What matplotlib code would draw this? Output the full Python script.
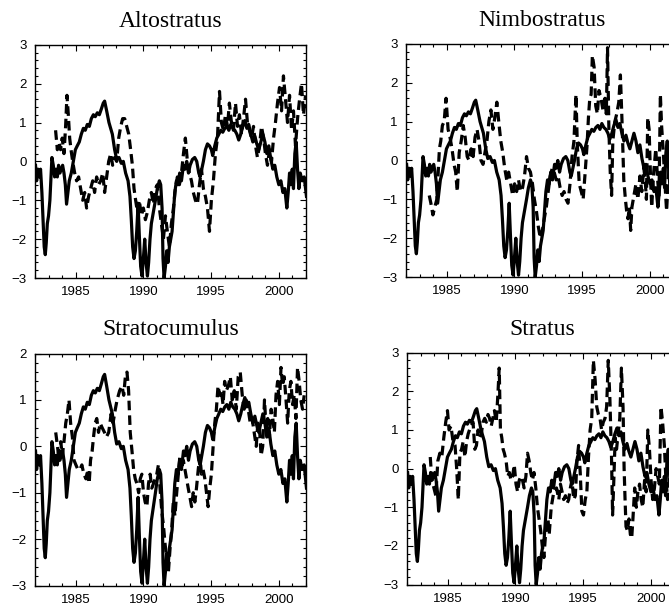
import matplotlib
matplotlib.use('Agg')
import matplotlib.pyplot as plt
from matplotlib.ticker import MultipleLocator

# Serie continua (comum aos quatro paineis)
anos_ref = [1982.04, 1982.12, 1982.22, 1982.32, 1982.41, 1982.51, 1982.61, 1982.68, 1982.76, 1982.83,
            1982.91, 1983.00, 1983.10, 1983.18, 1983.25, 1983.35, 1983.45, 1983.55, 1983.65, 1983.74,
            1983.84, 1983.94, 1984.04, 1984.14, 1984.24, 1984.33, 1984.43, 1984.53, 1984.68, 1984.83,
            1984.98, 1985.12, 1985.27, 1985.42, 1985.57, 1985.71, 1985.86, 1986.01, 1986.16, 1986.31,
            1986.45, 1986.60, 1986.75, 1986.90, 1987.04, 1987.14, 1987.29, 1987.46, 1987.71, 1987.88,
            1988.03, 1988.20, 1988.37, 1988.52, 1988.69, 1988.87, 1989.01, 1989.11, 1989.21, 1989.31,
            1989.41, 1989.51, 1989.61, 1989.70, 1989.80, 1989.90, 1990.00, 1990.10, 1990.20, 1990.30,
            1990.39, 1990.49, 1990.59, 1990.74, 1990.89, 1991.03, 1991.18, 1991.28, 1991.38, 1991.45,
            1991.53, 1991.63, 1991.72, 1991.82, 1991.92, 1992.02, 1992.12, 1992.22, 1992.32, 1992.44,
            1992.56, 1992.68, 1992.81, 1992.96, 1993.08, 1993.20, 1993.33, 1993.45, 1993.62, 1993.79,
            1993.94, 1994.09, 1994.19, 1994.31, 1994.43, 1994.58, 1994.73, 1994.88, 1995.02, 1995.12,
            1995.27, 1995.42, 1995.57, 1995.71, 1995.86, 1996.01, 1996.16, 1996.31, 1996.45, 1996.60,
            1996.75, 1996.90, 1997.04, 1997.19, 1997.34, 1997.49, 1997.64, 1997.78, 1997.93, 1998.08,
            1998.23, 1998.37, 1998.52, 1998.67, 1998.82, 1998.97, 1999.11, 1999.26, 1999.41, 1999.56,
            1999.70, 1999.85, 2000.00, 2000.15, 2000.30, 2000.44, 2000.59, 2000.69, 2000.79, 2000.89,
            2000.99, 2001.08, 2001.18, 2001.28, 2001.38, 2001.48, 2001.58, 2001.72, 2001.87, 2001.97,
            2002.04]
valores_ref = [-0.1, -0.5, -0.2, -0.4, -0.2, -0.8, -1.6, -2.2, -2.4, -2.1,
               -1.6, -1.4, -1.0, -0.4, 0.1, -0.1, -0.4, -0.2, -0.4, -0.1,
               -0.3, -0.2, -0.1, -0.3, -0.6, -1.1, -0.8, -0.5, -0.3, 0.0,
               0.3, 0.4, 0.5, 0.7, 0.85, 0.8, 0.95, 0.9, 1.1, 1.2,
               1.15, 1.25, 1.2, 1.35, 1.5, 1.55, 1.3, 1.0, 0.7, 0.3,
               0.05, 0.1, -0.05, 0.0, -0.3, -0.5, -0.9, -1.5, -2.2, -2.5,
               -2.3, -1.8, -1.1, -1.9, -2.7, -2.95, -2.5, -2.0, -2.6, -2.95,
               -2.6, -2.0, -1.6, -1.3, -1.0, -0.7, -0.5, -0.6, -1.2, -2.5,
               -3.0, -2.7, -2.3, -2.6, -2.2, -2.0, -1.8, -1.3, -0.8, -0.5,
               -0.6, -0.3, -0.5, -0.1, -0.2, 0.0, -0.3, -0.1, 0.05, 0.1,
               0.0, -0.3, -0.4, -0.2, 0.0, 0.3, 0.45, 0.4, 0.3, 0.15,
               0.4, 0.6, 0.7, 0.8, 0.75, 0.85, 0.9, 0.8, 0.95, 0.85,
               0.8, 0.7, 0.55, 0.7, 0.9, 1.05, 0.85, 0.95, 0.7, 0.5,
               0.65, 0.45, 0.3, 0.5, 0.7, 0.5, 0.2, 0.4, 0.05, -0.2,
               -0.1, -0.4, -0.6, -0.5, -0.8, -0.7, -1.2, -0.8, -0.3, -0.6,
               -0.2, -0.7, 0.2, 0.5, -0.2, -0.7, -0.3, -0.5, -0.4, -0.7,
               -0.9]

# Altostratus
anos_as = [1983.52, 1983.65, 1983.77, 1983.89, 1984.01, 1984.14, 1984.26, 1984.36, 1984.46, 1984.56,
           1984.66, 1984.78, 1984.93, 1985.07, 1985.22, 1985.37, 1985.52, 1985.67, 1985.81, 1985.96,
           1986.11, 1986.26, 1986.40, 1986.55, 1986.70, 1986.85, 1987.00, 1987.14, 1987.29, 1987.44,
           1987.59, 1987.73, 1987.88, 1988.03, 1988.18, 1988.33, 1988.47, 1988.62, 1988.77, 1988.92,
           1989.06, 1989.19, 1989.31, 1989.43, 1989.56, 1989.70, 1989.85, 1990.00, 1990.15, 1990.30,
           1990.44, 1990.59, 1990.74, 1990.89, 1991.03, 1991.18, 1991.33, 1991.48, 1991.63, 1991.77,
           1991.92, 1992.07, 1992.22, 1992.36, 1992.51, 1992.66, 1992.81, 1992.96, 1993.10, 1993.25,
           1993.40, 1993.55, 1993.69, 1993.84, 1993.99, 1994.14, 1994.29, 1994.43, 1994.58, 1994.73,
           1994.88, 1995.02, 1995.17, 1995.32, 1995.47, 1995.62, 1995.76, 1995.91, 1996.06, 1996.21,
           1996.35, 1996.50, 1996.65, 1996.80, 1996.95, 1997.09, 1997.24, 1997.39, 1997.54, 1997.68,
           1997.83, 1997.98, 1998.13, 1998.28, 1998.42, 1998.57, 1998.72, 1998.87, 1999.01, 1999.16,
           1999.31, 1999.46, 1999.61, 1999.75, 1999.90, 2000.05, 2000.20, 2000.34, 2000.49, 2000.64,
           2000.79, 2000.94, 2001.08, 2001.23, 2001.38, 2001.53, 2001.67, 2001.82, 2001.97]
valores_as = [0.8, 0.3, 0.5, 0.3, 0.6, 0.2, 0.9, 1.7, 1.2, 0.6,
              0.3, 0.0, -0.3, -0.5, -0.4, -0.7, -1.0, -0.8, -1.2, -0.9,
              -0.7, -0.5, -0.8, -0.4, -0.6, -0.5, -0.3, -0.8, -0.4, 0.0,
              0.2, -0.1, 0.1, 0.0, 0.6, 0.9, 1.1, 1.1, 0.9, 0.7,
              0.3, -0.1, -0.7, -1.0, -1.3, -1.0, -1.4, -1.2, -1.5, -1.3,
              -1.0, -0.8, -1.1, -0.7, -0.6, -1.2, -1.6, -2.0, -1.4, -1.8,
              -2.2, -1.6, -1.2, -0.7, -0.4, -0.6, -0.3, 0.2, 0.6, 0.0,
              -0.3, -0.5, -0.8, -1.0, -1.1, -0.6, -0.2, -0.7, -0.9, -1.2,
              -1.8, -1.0, -0.5, 0.2, 0.6, 1.8, 1.0, 0.8, 1.2, 0.9,
              1.5, 1.0, 0.8, 1.5, 0.9, 1.2, 0.7, 1.1, 1.6, 1.0,
              0.8, 0.6, 0.9, 0.4, 0.1, 0.4, 0.9, 0.6, 0.2, -0.1,
              0.3, 0.0, 0.6, 1.0, 1.5, 1.9, 1.3, 2.2, 1.6, 1.0,
              1.7, 0.8, 1.3, 0.4, 1.1, 1.6, 2.0, 1.2, 1.7]

# Nimbostratus
anos_ns = [1983.71, 1983.83, 1983.98, 1984.12, 1984.27, 1984.37, 1984.46, 1984.56, 1984.68, 1984.81,
           1984.95, 1985.10, 1985.24, 1985.39, 1985.54, 1985.66, 1985.78, 1985.92, 1986.07, 1986.22,
           1986.36, 1986.51, 1986.65, 1986.80, 1986.95, 1987.09, 1987.24, 1987.38, 1987.53, 1987.68,
           1987.82, 1987.97, 1988.11, 1988.26, 1988.41, 1988.55, 1988.70, 1988.84, 1988.99, 1989.14,
           1989.28, 1989.43, 1989.57, 1989.72, 1989.87, 1990.01, 1990.16, 1990.30, 1990.45, 1990.60,
           1990.74, 1990.89, 1991.03, 1991.18, 1991.33, 1991.47, 1991.62, 1991.76, 1991.91, 1992.06,
           1992.20, 1992.35, 1992.49, 1992.64, 1992.79, 1992.93, 1993.08, 1993.22, 1993.37, 1993.52,
           1993.66, 1993.81, 1993.95, 1994.10, 1994.25, 1994.39, 1994.54, 1994.64, 1994.78, 1994.93,
           1995.07, 1995.22, 1995.36, 1995.46, 1995.56, 1995.66, 1995.75, 1995.88, 1996.00, 1996.12,
           1996.24, 1996.39, 1996.53, 1996.68, 1996.78, 1996.87, 1996.97, 1997.07, 1997.17, 1997.26,
           1997.41, 1997.55, 1997.70, 1997.82, 1997.94, 1998.07, 1998.19, 1998.28, 1998.38, 1998.48,
           1998.58, 1998.67, 1998.82, 1998.97, 1999.11, 1999.26, 1999.40, 1999.55, 1999.65, 1999.74,
           1999.84, 1999.94, 2000.04, 2000.13, 2000.28, 2000.43, 2000.57, 2000.67, 2000.77, 2000.86,
           2000.99, 2001.11, 2001.23, 2001.35, 2001.50, 2001.64, 2001.79, 2001.93]
valores_ns = [-0.9, -1.1, -1.4, -1.2, -1.0, -0.3, 0.3, 0.5, 0.9, 1.0,
              1.6, 0.8, 0.6, 0.3, -0.1, -0.3, -0.8, 0.2, 0.5, 0.9,
              0.6, 0.1, 0.0, 0.3, 0.1, 0.6, 0.8, 0.5, 0.0, -0.1,
              0.2, 0.5, 1.0, 1.3, 0.8, 1.1, 1.5, 1.0, 0.5, 0.2,
              -0.2, -0.5, -0.3, -0.6, -0.9, -0.6, -0.8, -0.5, -0.8, -0.7,
              -0.4, 0.1, -0.2, -0.3, -0.6, -1.0, -1.3, -1.7, -2.0, -1.8,
              -1.5, -1.2, -0.8, -0.4, -0.2, -0.3, -0.5, -0.4, -0.7, -0.9,
              -0.8, -1.0, -1.1, -0.6, 0.1, 0.5, 1.7, 0.4, -0.6, -0.8,
              -1.0, -0.3, 0.4, 1.1, 1.6, 1.7, 2.7, 2.4, 1.4, 1.2,
              1.8, 1.6, 1.3, 1.6, 1.2, 2.9, 0.8, -0.3, -0.9, 0.5,
              1.0, 1.2, 1.5, 2.2, 1.0, -0.5, -1.0, -1.3, -1.5, -1.2,
              -1.8, -1.2, -0.9, -0.6, -1.0, -0.4, -0.8, -0.2, -0.5, -1.0,
              1.1, 0.8, -0.4, -1.2, -0.3, 0.3, -0.5, -0.9, 1.7, 0.9,
              0.2, -0.6, -1.3, -0.5, 0.2, -0.4, -0.8, -0.2]

# Stratocumulus
anos_sc = [1983.53, 1983.66, 1983.78, 1983.90, 1984.02, 1984.14, 1984.27, 1984.39, 1984.51, 1984.63,
           1984.76, 1984.88, 1985.02, 1985.17, 1985.32, 1985.46, 1985.61, 1985.76, 1985.90, 1986.00,
           1986.10, 1986.22, 1986.32, 1986.44, 1986.56, 1986.69, 1986.81, 1986.96, 1987.13, 1987.27,
           1987.44, 1987.62, 1987.76, 1987.93, 1988.06, 1988.25, 1988.42, 1988.55, 1988.67, 1988.79,
           1988.91, 1989.03, 1989.16, 1989.28, 1989.40, 1989.52, 1989.65, 1989.77, 1989.89, 1990.01,
           1990.13, 1990.26, 1990.38, 1990.50, 1990.62, 1990.75, 1990.87, 1990.99, 1991.11, 1991.23,
           1991.36, 1991.48, 1991.60, 1991.72, 1991.85, 1991.97, 1992.09, 1992.21, 1992.33, 1992.46,
           1992.58, 1992.70, 1992.82, 1992.95, 1993.07, 1993.19, 1993.31, 1993.44, 1993.56, 1993.68,
           1993.80, 1993.92, 1994.05, 1994.17, 1994.29, 1994.41, 1994.54, 1994.66, 1994.78, 1994.90,
           1995.02, 1995.15, 1995.27, 1995.39, 1995.51, 1995.64, 1995.76, 1995.88, 1996.00, 1996.12,
           1996.27, 1996.42, 1996.56, 1996.71, 1996.86, 1997.00, 1997.15, 1997.30, 1997.44, 1997.59,
           1997.74, 1997.89, 1998.03, 1998.18, 1998.33, 1998.45, 1998.57, 1998.69, 1998.81, 1998.94,
           1999.06, 1999.18, 1999.30, 1999.43, 1999.55, 1999.67, 1999.79, 1999.91, 2000.04, 2000.16,
           2000.28, 2000.40, 2000.53, 2000.65, 2000.77, 2000.89, 2001.01, 2001.14, 2001.26, 2001.38,
           2001.50, 2001.62, 2001.75, 2001.87]
valores_sc = [0.3, 0.0, -0.3, 0.1, -0.2, 0.1, 0.5, 0.7, 1.0, 0.5,
              0.2, -0.3, -0.4, -0.5, -0.5, -0.4, -0.6, -0.7, -0.5, -0.8,
              -0.3, -0.1, 0.2, 0.5, 0.6, 0.3, 0.5, 0.4, 0.3, 0.2,
              0.3, 0.7, 0.5, 0.8, 1.0, 1.2, 1.3, 1.1, 1.5, 1.6,
              1.2, 0.3, -0.1, -0.5, -0.7, -0.8, -1.0, -0.7, -0.6, -1.0,
              -1.2, -1.3, -0.8, -0.6, -0.9, -0.8, -0.7, -0.6, -0.4, -0.9,
              -1.4, -1.7, -2.1, -2.4, -2.7, -2.2, -1.8, -1.2, -1.5, -1.0,
              -0.6, -0.2, -0.5, -0.3, -0.5, -0.7, -0.9, -1.1, -1.3, -1.0,
              -1.2, -0.9, -0.5, -0.2, -0.6, -0.5, -0.7, -1.0, -1.3, -0.9,
              -0.6, 0.0, 0.5, 0.8, 1.3, 1.1, 1.2, 0.9, 1.4, 1.2,
              1.3, 1.5, 1.0, 1.2, 0.8, 1.5, 1.6, 1.1, 0.8, 1.0,
              0.8, 0.5, 0.6, 0.3, 0.0, 0.5, 0.4, -0.2, 0.0, 1.0,
              0.4, 0.6, 0.2, 0.8, 0.6, 0.3, 1.1, 1.4, 0.9, 1.7,
              1.3, 1.5, 1.0, 0.5, 1.2, 1.4, 0.9, 1.1, 0.6, 1.7,
              1.4, 1.0, 0.8, 1.1]

# Stratus
anos_st = [1983.71, 1983.83, 1983.98, 1984.12, 1984.27, 1984.42, 1984.56, 1984.71, 1984.85, 1984.98,
           1985.10, 1985.24, 1985.39, 1985.54, 1985.66, 1985.78, 1985.90, 1986.02, 1986.14, 1986.27,
           1986.39, 1986.51, 1986.70, 1986.87, 1987.00, 1987.12, 1987.24, 1987.36, 1987.48, 1987.60,
           1987.73, 1987.85, 1987.97, 1988.09, 1988.21, 1988.33, 1988.45, 1988.58, 1988.70, 1988.80,
           1988.89, 1988.99, 1989.09, 1989.18, 1989.31, 1989.43, 1989.55, 1989.67, 1989.79, 1989.91,
           1990.04, 1990.16, 1990.28, 1990.40, 1990.52, 1990.64, 1990.77, 1990.89, 1991.01, 1991.13,
           1991.25, 1991.37, 1991.50, 1991.62, 1991.74, 1991.86, 1991.98, 1992.10, 1992.20, 1992.30,
           1992.40, 1992.49, 1992.64, 1992.83, 1993.03, 1993.20, 1993.32, 1993.44, 1993.56, 1993.69,
           1993.81, 1993.93, 1994.05, 1994.17, 1994.30, 1994.42, 1994.54, 1994.66, 1994.78, 1994.90,
           1995.02, 1995.15, 1995.27, 1995.39, 1995.51, 1995.63, 1995.75, 1995.88, 1996.00, 1996.12,
           1996.24, 1996.36, 1996.48, 1996.61, 1996.73, 1996.85, 1996.97, 1997.09, 1997.17, 1997.26,
           1997.36, 1997.46, 1997.58, 1997.70, 1997.82, 1997.94, 1998.02, 1998.09, 1998.16, 1998.26,
           1998.38, 1998.48, 1998.58, 1998.67, 1998.80, 1998.92, 1999.04, 1999.16, 1999.28, 1999.40,
           1999.53, 1999.65, 1999.77, 1999.89, 2000.01, 2000.13, 2000.26, 2000.38, 2000.50, 2000.62,
           2000.74, 2000.86, 2000.99, 2001.11, 2001.23, 2001.40, 2001.59, 2001.79, 2001.93]
valores_st = [0.3, -0.3, -0.5, -0.7, 0.2, 0.4, 0.3, 0.8, 1.2, 1.5,
              1.0, 1.1, 0.7, 0.6, 0.0, -0.8, 0.4, 0.5, 0.7, 0.3,
              0.7, 0.9, 1.1, 1.2, 0.5, 0.6, 1.0, 0.8, 0.9, 1.2,
              1.3, 1.2, 1.4, 1.3, 1.1, 1.3, 1.5, 1.2, 1.9, 2.6,
              1.0, 0.8, 0.5, 0.4, 0.2, -0.2, -0.1, -0.3, -0.2, 0.1,
              -0.4, -0.6, -0.3, -0.2, -0.3, -0.5, -0.2, 0.4, 0.2, -0.1,
              -0.3, -0.1, -0.5, -1.0, -1.3, -1.6, -2.0, -2.3, -1.8, -1.5,
              -1.3, -1.7, -1.0, -0.6, -0.5, -0.8, -0.4, -0.6, -0.8, -0.7,
              -0.9, -0.8, -0.5, -0.3, -0.8, -0.7, 0.2, 0.6, -0.1, -1.1,
              -1.2, -0.8, -0.6, 0.3, 1.0, 1.3, 2.8, 2.3, 1.6, 1.4,
              1.3, 1.0, 1.2, 1.3, 1.6, 2.8, 1.8, 0.3, -1.2, -0.3,
              0.8, 0.5, 0.9, 1.3, 2.6, 1.6, 0.0, -0.8, -1.5, -1.6,
              -1.3, -1.7, -1.8, -1.3, -0.5, -1.0, -0.6, -0.4, -0.8, -1.0,
              -0.3, -0.6, 1.0, 0.5, -0.3, -0.8, -0.5, 0.0, -0.2, -0.4,
              1.6, 1.2, 0.6, -0.3, -0.8, -0.2, 0.3, -0.5, 0.0]

titulos = ['Altostratus', 'Nimbostratus', 'Stratocumulus', 'Stratus']
series = [(anos_as, valores_as), (anos_ns, valores_ns), (anos_sc, valores_sc), (anos_st, valores_st)]
limites_y = [(-3, 3), (-3, 3), (-3, 2), (-3, 3)]
# posicoes dos eixos em fracao da figura [esquerda, base, largura, altura]
posicoes = [[0.0523, 0.5435, 0.405, 0.383],
            [0.6070, 0.5450, 0.405, 0.383],
            [0.0523, 0.0385, 0.405, 0.381],
            [0.6085, 0.0400, 0.405, 0.381]]

fig = plt.figure(figsize=(6.69, 6.09), dpi=100)

for titulo, (anos, valores), ylim, pos in zip(titulos, series, limites_y, posicoes):
    ax = fig.add_axes(pos)
    ax.plot(anos_ref, valores_ref, color='black', lw=2.3, solid_joinstyle='round')
    ax.plot(anos, valores, color='black', lw=2.3, dashes=(3.0, 1.6))
    ax.set_xlim(1982, 2002)
    ax.set_ylim(*ylim)
    ax.set_title(titulo, fontsize=17, family='Liberation Serif', pad=13)
    ax.xaxis.set_major_locator(MultipleLocator(5))
    ax.xaxis.set_minor_locator(MultipleLocator(1))
    ax.yaxis.set_major_locator(MultipleLocator(1))
    ax.yaxis.set_minor_locator(MultipleLocator(0.2))
    ax.tick_params(which='both', direction='in', top=True, right=True, width=0.8)
    ax.tick_params(which='major', length=4.5, labelsize=9.5)
    ax.tick_params(axis='x', which='major', pad=6)
    ax.tick_params(axis='y', which='major', pad=6)
    ax.tick_params(which='minor', length=2)
    for rotulo in ax.get_xticklabels() + ax.get_yticklabels():
        rotulo.set_family('Liberation Sans')
    for spine in ax.spines.values():
        spine.set_linewidth(1.0)

fig.savefig('out.png', dpi=100)
